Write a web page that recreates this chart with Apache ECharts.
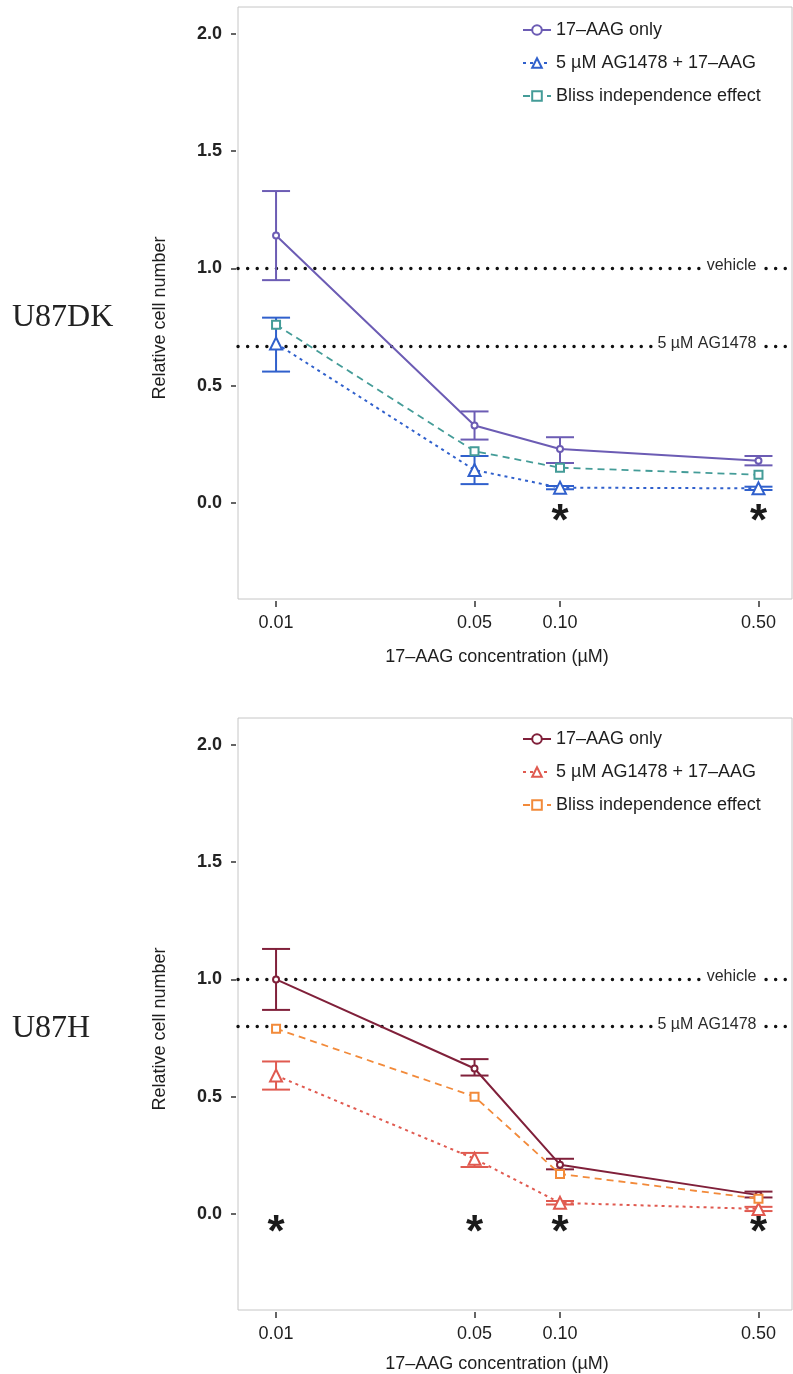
<!DOCTYPE html>
<html>
<head>
<meta charset="utf-8">
<script src="https://cdn.jsdelivr.net/npm/echarts@6/dist/echarts.min.js"></script>
<style>
html, body { margin: 0; padding: 0; background: #fff; }
.panel { width: 793px; height: 687px; }
</style>
</head>
<body>
<div id="top" class="panel"></div>
<div id="bottom" class="panel"></div>
<script>
// shared axes
const conc = [0.01, 0.05, 0.10, 0.50];
const concLabels = ['0.01', '0.05', '0.10', '0.50'];
const yTicks = [0, 0.5, 1.0, 1.5, 2.0];
const seriesNames = ['17\u2013AAG only', '5 \u00b5M AG1478 + 17\u2013AAG', 'Bliss independence effect'];
const refNames = ['vehicle', '5 \u00b5M AG1478'];

// U87DK
const dkOnly = [1.14, 0.33, 0.23, 0.18];
const dkOnlyLo = [0.95, 0.27, 0.17, 0.16];
const dkOnlyHi = [1.33, 0.39, 0.28, 0.20];
const dkCombo = [0.68, 0.14, 0.065, 0.062];
const dkComboLo = [0.56, 0.08, 0.058, 0.055];
const dkComboHi = [0.79, 0.20, 0.072, 0.069];
const dkBliss = [0.76, 0.22, 0.15, 0.12];
const dkRefs = [1.0, 0.665];
const dkSig = [0.10, 0.50];

// U87H
const hOnly = [1.00, 0.62, 0.21, 0.08];
const hOnlyLo = [0.87, 0.59, 0.19, 0.07];
const hOnlyHi = [1.13, 0.66, 0.235, 0.095];
const hCombo = [0.59, 0.235, 0.047, 0.021];
const hComboLo = [0.53, 0.20, 0.04, 0.012];
const hComboHi = [0.65, 0.26, 0.055, 0.03];
const hBliss = [0.79, 0.50, 0.17, 0.065];
const hRefs = [1.0, 0.795];
const hSig = [0.01, 0.05, 0.10, 0.50];

const lx = v => Math.log10(v);
const FONT = '"Liberation Sans", Arial, sans-serif';
const X_MIN = -2.134, X_MAX = -0.183;
const Y_MIN = -0.41, Y_MAX = 2.115;
const STAR_Y = -0.085;

function errorBars(lo, hi, color) {
    return {
        type: 'custom',
        silent: true,
        z: 4,
        data: conc.map((c, i) => [lx(c), lo[i], hi[i]]),
        encode: { x: 0, y: [1, 2] },
        renderItem: (params, api) => {
            const a = api.coord([api.value(0), api.value(2)]);
            const b = api.coord([api.value(0), api.value(1)]);
            const w = 14;
            const style = { stroke: color, lineWidth: 2, fill: null };
            return {
                type: 'group',
                children: [
                    { type: 'line', shape: { x1: a[0], y1: a[1], x2: b[0], y2: b[1] }, style },
                    { type: 'line', shape: { x1: a[0] - w, y1: a[1], x2: a[0] + w, y2: a[1] }, style },
                    { type: 'line', shape: { x1: b[0] - w, y1: b[1], x2: b[0] + w, y2: b[1] }, style }
                ]
            };
        }
    };
}

function buildOption(p) {
    const pts = arr => conc.map((c, i) => [lx(c), arr[i]]);
    return {
        animation: false,
        grid: { left: 238, top: p.gridTop, width: 554, height: 592, show: true, borderColor: '#c6c6c6', borderWidth: 1 },
        legend: {
            orient: 'vertical',
            left: 517,
            top: p.legendTop,
            itemWidth: 28,
            itemHeight: 12,
            itemGap: 13,
            data: seriesNames,
            textStyle: { fontFamily: FONT, fontSize: 18, color: '#1e1e1e', lineHeight: 20 }
        },
        xAxis: {
            type: 'value',
            min: X_MIN,
            max: X_MAX,
            offset: 2,
            splitLine: { show: false },
            axisLine: { show: false, onZero: false },
            axisTick: { customValues: conc.map(lx), length: 6, lineStyle: { color: '#333', width: 1.5 } },
            axisLabel: {
                customValues: conc.map(lx),
                formatter: v => concLabels[conc.findIndex(c => Math.abs(lx(c) - v) < 1e-6)],
                fontFamily: FONT, fontSize: 18, color: '#1e1e1e', margin: 13
            }
        },
        yAxis: {
            type: 'value',
            min: Y_MIN,
            max: Y_MAX,
            offset: 2,
            splitLine: { show: false },
            axisLine: { show: false, onZero: false },
            axisTick: { customValues: yTicks, length: 5, lineStyle: { color: '#333', width: 1.5 } },
            axisLabel: {
                customValues: yTicks,
                formatter: v => v.toFixed(1),
                fontFamily: FONT, fontSize: 18, fontWeight: 'bold', color: '#222', margin: 14
            }
        },
        graphic: [
            {
                type: 'text', x: 12, y: p.nameY,
                style: { text: p.cellLine, font: '32px "Liberation Serif", "DejaVu Serif", serif', fill: '#222', align: 'left', verticalAlign: 'middle' }
            },
            {
                type: 'text', x: 160, y: p.nameY, rotation: Math.PI / 2,
                style: { text: 'Relative cell number', font: '18px ' + FONT, fill: '#1e1e1e', align: 'center', verticalAlign: 'middle' }
            },
            {
                type: 'text', x: 497, y: p.xTitleY,
                style: { text: '17\u2013AAG concentration (\u00b5M)', font: '18px ' + FONT, fill: '#1e1e1e', align: 'center', verticalAlign: 'middle' }
            }
        ],
        series: [
            {
                name: seriesNames[0], type: 'line', z: 5,
                data: pts(p.only),
                symbol: 'emptyCircle', symbolSize: 6,
                lineStyle: { color: p.colors[0], width: 2 },
                itemStyle: { color: p.colors[0], borderWidth: 1.5 }
            },
            {
                name: seriesNames[1], type: 'line', z: 5,
                data: pts(p.combo),
                symbol: 'emptyTriangle', symbolSize: 12,
                lineStyle: { color: p.colors[1], width: 2, type: [3, 4] },
                itemStyle: { color: p.colors[1], borderWidth: 1.8 }
            },
            {
                name: seriesNames[2], type: 'line', z: 5,
                data: pts(p.bliss),
                symbol: 'emptyRect', symbolSize: 8,
                lineStyle: { color: p.colors[2], width: 1.8, type: [7, 5] },
                itemStyle: { color: p.colors[2], borderWidth: 1.8 },
                markLine: {
                    silent: true,
                    symbol: 'none',
                    z: 2,
                    label: { show: false },
                    lineStyle: { color: '#111', width: 3.4, type: [0.1, 9.5], cap: 'round' },
                    data: p.refs.map(v => ({ yAxis: v }))
                }
            },
            errorBars(p.onlyLo, p.onlyHi, p.colors[0]),
            errorBars(p.comboLo, p.comboHi, p.colors[1]),
            {
                // reference line labels
                type: 'custom', silent: true, z: 3,
                data: p.refs.map(v => [lx(conc[3]), v]),
                encode: { x: 0, y: 1 },
                renderItem: (params, api) => {
                    const pt = api.coord([api.value(0), api.value(1)]);
                    return {
                        type: 'text', x: pt[0], y: pt[1] - 3,
                        style: {
                            text: refNames[params.dataIndex], font: '16px ' + FONT, fill: '#2a2a2a',
                            align: 'right', verticalAlign: 'middle',
                            backgroundColor: '#fff', padding: [0, 2]
                        }
                    };
                }
            },
            {
                // significance marks
                type: 'custom', silent: true, z: 3,
                data: p.sig.map(c => [lx(c), STAR_Y]),
                encode: { x: 0, y: 1 },
                renderItem: (params, api) => {
                    const pt = api.coord([api.value(0), api.value(1)]);
                    return {
                        type: 'text', x: pt[0], y: pt[1],
                        style: { text: '*', font: 'bold 44px ' + FONT, fill: '#1a1a1a', align: 'center', verticalAlign: 'middle' }
                    };
                }
            }
        ]
    };
}

const topChart = echarts.init(document.getElementById('top'));
topChart.setOption(buildOption({
    cellLine: 'U87DK', gridTop: 7, legendTop: 15, nameY: 318, xTitleY: 657,
    colors: ['#6c5cb4', '#3060cc', '#449c98'],
    only: dkOnly, onlyLo: dkOnlyLo, onlyHi: dkOnlyHi,
    combo: dkCombo, comboLo: dkComboLo, comboHi: dkComboHi,
    bliss: dkBliss, refs: dkRefs, sig: dkSig
}));

const bottomChart = echarts.init(document.getElementById('bottom'));
bottomChart.setOption(buildOption({
    cellLine: 'U87H', gridTop: 31, legendTop: 37, nameY: 342, xTitleY: 677,
    colors: ['#80203a', '#e05a50', '#f28a3a'],
    only: hOnly, onlyLo: hOnlyLo, onlyHi: hOnlyHi,
    combo: hCombo, comboLo: hComboLo, comboHi: hComboHi,
    bliss: hBliss, refs: hRefs, sig: hSig
}));
</script>
</body>
</html>
